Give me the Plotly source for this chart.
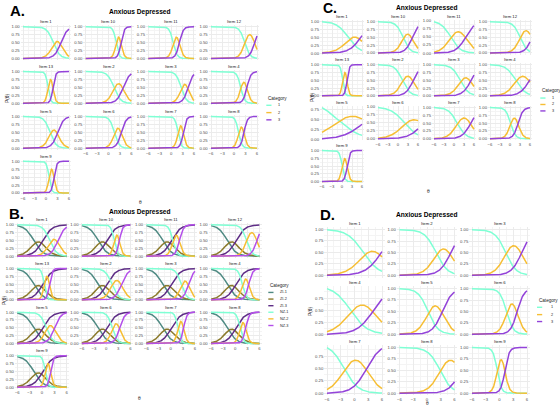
import numpy as np
import plotly.graph_objects as go

W, H = 560, 409
theta = np.linspace(-6, 6, 241)

# ---------------- data (item parameters) ----------------
# Panels A and B (non-zero class): discrimination a, thresholds b1, b2
items_13 = ["Item 1", "Item 10", "Item 11", "Item 12", "Item 13", "Item 2", "Item 3",
            "Item 4", "Item 5", "Item 6", "Item 7", "Item 8", "Item 9"]
a_A = [1.2, 2.5, 2.0, 1.5, 3.0, 1.2, 1.5, 2.0, 1.3, 1.6, 2.5, 2.3, 3.0]
b1_A = [1.9, 2.0, 0.55, 2.8, 0.53, 1.44, 2.63, 1.77, 1.06, 1.54, 1.8, 1.2, 0.8]
b2_A = [3.9, 3.3, 2.17, 5.4, 1.83, 3.86, 4.47, 3.37, 3.06, 3.4, 3.2, 2.6, 2.1]

# Panel B zero-inflated class (same for every item)
a_ZI = 0.9
b1_ZI = -2.0
b2_ZI = 0.2

# Panel C
a_C = [0.59, 1.0, 0.7, 1.0, 3.0, 0.9, 0.8, 0.7, 0.3, 0.49, 0.78, 1.4, 2.5]
b1_C = [1.86, 1.5, -1.03, 3.0, 0.2, 1.3, 1.85, 1.7, -1.3, 1.96, 0.95, 0.16, 0.04]
b2_C = [5.66, 4.3, 3.53, 6.6, 1.5, 4.6, 5.15, 5.9, 7.6, 7.63, 5.05, 2.44, 1.56]

# Panel D
items_9 = ["Item 1", "Item 2", "Item 3", "Item 4", "Item 5", "Item 6", "Item 7", "Item 8", "Item 9"]
a_D = [0.58, 0.81, 0.88, 0.55, 0.93, 1.38, 0.66, 0.8, 2.2]
b1_D = [1.9, 1.97, 1.34, -0.9, 0.24, 1.54, -2.25, 2.83, -0.5]
b2_D = [5.9, 5.23, 4.86, 4.2, 3.36, 3.86, 2.65, 7.37, 1.2]

cats_3 = ["1", "2", "3"]
cats_6 = ["ZI-1", "ZI-2", "ZI-3", "NZ-1", "NZ-2", "NZ-3"]
col_3 = ["#7FFFD4", "#F6BE34", "#9343D9"]
col_6 = ["#4F8A83", "#8B7A2B", "#5E2D86", "#7FFFD4", "#F6BE34", "#B44FEA"]

x_ticks = [-6, -3, 0, 3, 6]
x_minor = [-4.5, -1.5, 1.5, 4.5]


def grm(a, b1, b2):
    p_ge2 = 1 / (1 + np.exp(-a * (theta - b1)))
    p_ge3 = 1 / (1 + np.exp(-a * (theta - b2)))
    return [1 - p_ge2, p_ge2 - p_ge3, p_ge3]


FONT = "Liberation Sans, Arial, sans-serif"
fig = go.Figure()
layout = {}
ann = []
shapes = []
counter = [0]


def X(px):
    return px / W


def Y(py):
    return 1 - py / H


def y_ticks(lo, hi):
    span = hi - lo
    step = 0.25 if span > 0.8 else 0.2
    start = np.ceil(lo / step - 1e-9) * step
    vals = [round(v, 4) for v in np.arange(start, hi + 1e-9, step)]
    fmt = ".2f" if step == 0.25 else ".1f"
    minor = [round(v + step / 2, 4) for v in np.arange(start - step, hi, step)]
    return vals, fmt, minor


def add_facets(col_px, row_px, ncol, names, curve_sets, colors, strip_off=3.4):
    n = len(names)
    for i, name in enumerate(names):
        r, c = divmod(i, ncol)
        xm, xp = col_px[c]
        y1, y0 = row_px[r]
        wpx, hpx = xp - xm, y0 - y1
        left, right = xm - 0.05 * wpx, xp + 0.05 * wpx
        top, bottom = y1 - 0.05 * hpx, y0 + 0.05 * hpx
        counter[0] += 1
        k = counter[0]
        xs = "" if k == 1 else str(k)
        curves = curve_sets[i]
        allv = np.concatenate(curves)
        lo, hi = float(allv.min()), float(allv.max())
        pad = 0.05 * (hi - lo)
        tv, fmt, mn = y_ticks(lo - pad, hi + pad)
        is_bottom = i + ncol >= n
        layout["xaxis" + xs] = dict(
            domain=[X(left), X(right)], anchor="y" + xs, range=[-6.6, 6.6],
            tickvals=x_ticks, showticklabels=is_bottom, ticks="", showline=False,
            zeroline=False, showgrid=True, gridcolor="#EBEBEB", gridwidth=0.5,
            minor=dict(tickvals=x_minor, showgrid=True, gridcolor="#F4F4F4", gridwidth=0.3),
            tickfont=dict(size=4.2, color="#4D4D4D", family=FONT), fixedrange=True)
        layout["yaxis" + xs] = dict(
            domain=[Y(bottom), Y(top)], anchor="x" + xs, range=[lo - pad, hi + pad],
            tickvals=tv, tickformat=fmt, ticks="", showline=False, zeroline=False,
            showgrid=True, gridcolor="#EBEBEB", gridwidth=0.5,
            minor=dict(tickvals=mn, showgrid=True, gridcolor="#F4F4F4", gridwidth=0.3),
            tickfont=dict(size=4.2, color="#4D4D4D", family=FONT), fixedrange=True)
        for yv, colr in zip(curves, colors):
            fig.add_trace(go.Scatter(x=theta, y=yv, mode="lines", xaxis="x" + xs, yaxis="y" + xs,
                                     line=dict(color=colr, width=1.5), showlegend=False,
                                     hoverinfo="skip"))
        ann.append(dict(x=X((left + right) / 2), y=Y(top - strip_off), xref="paper", yref="paper",
                        text=name, showarrow=False, xanchor="center", yanchor="middle",
                        font=dict(size=4.2, color="#1A1A1A", family=FONT)))


def text(xp, yp, s, size, bold=False, anchor="center", color="#000000", angle=0):
    ann.append(dict(x=X(xp), y=Y(yp), xref="paper", yref="paper", showarrow=False,
                    text=("<b>%s</b>" % s) if bold else s, xanchor=anchor, yanchor="middle",
                    textangle=angle, font=dict(size=size, color=color, family=FONT)))


def legend(x0, ytitle, ys, labels, colors, lab_x):
    text(x0, ytitle, "Category", 4.6, anchor="left", color="#1A1A1A")
    for yy, lab, colr in zip(ys, labels, colors):
        shapes.append(dict(type="line", xref="paper", yref="paper", x0=X(x0 + 0.3), x1=X(x0 + 5.5),
                           y0=Y(yy), y1=Y(yy), line=dict(color=colr, width=1.4)))
        text(lab_x, yy, lab, 3.8, anchor="left", color="#1A1A1A")


# ---------------- Panel A ----------------
curves_A = [grm(a, b1, b2) for a, b1, b2 in zip(a_A, b1_A, b2_A)]
colsA = [(23, 69), (85.7, 131.3), (148.3, 194), (211, 257)]
rowsA = [(25 + 45.3 * r, 57 + 45.3 * r) for r in range(4)]
add_facets(colsA, rowsA, 4, items_13, curves_A, col_3)
text(8, 9, "A.", 15, bold=True, anchor="left")
text(140, 10, "Anxious Depressed", 6.6, bold=True)
text(7, 98, "P(θ)", 4.8, angle=-90, color="#1A1A1A")
text(140, 202, "θ", 4.8, color="#1A1A1A")
legend(266, 97, [104.3, 111.7, 119], cats_3, col_3, 276)

# ---------------- Panel B ----------------
zi = grm(a_ZI, b1_ZI, b2_ZI)
curves_B = [zi + c for c in curves_A]
colsB = [(17.3, 66.7), (81.9, 130.3), (146.5, 194.9), (211.1, 259.4)]
rowsB = [(225 + 44.1 * r, 256.7 + 44.1 * r) for r in range(4)]
add_facets(colsB, rowsB, 4, items_13, curves_B, col_6)
text(7, 214, "B.", 15, bold=True, anchor="left")
text(140, 212, "Anxious Depressed", 6.6, bold=True)
text(4, 302, "P(θ)", 4.8, angle=-90, color="#1A1A1A")
text(139, 400, "θ", 4.8, color="#1A1A1A")
legend(268, 286, [293.3, 300, 306.7, 313.3, 320, 326.7], cats_6, col_6, 277.5)

# ---------------- Panel C ----------------
curves_C = [grm(a, b1, b2) for a, b1, b2 in zip(a_C, b1_C, b2_C)]
colsC = [(322, 362), (378, 418), (434, 474), (490, 530)]
rowsC = [(20 + 43.3 * r, 51.5 + 43.3 * r) for r in range(4)]
add_facets(colsC, rowsC, 4, items_13, curves_C, col_3)
text(321, 6, "C.", 14, bold=True, anchor="left")
text(427, 6, "Anxious Depressed", 6.6, bold=True)
text(312, 97, "P(θ)", 4.8, angle=-90, color="#1A1A1A")
text(428, 191, "θ", 4.8, color="#1A1A1A")
legend(540, 89, [97, 103.5, 110], cats_3, col_3, 550)

# ---------------- Panel D ----------------
curves_D = [grm(a, b1, b2) for a, b1, b2 in zip(a_D, b1_D, b2_D)]
colsD = [(327, 382), (399.5, 454.5), (472, 527)]
rowsD = [(230 + 59.5 * r, 276 + 59.5 * r) for r in range(3)]
add_facets(colsD, rowsD, 3, items_9, curves_D, col_3, strip_off=4.0)
text(318, 215, "D.", 15, bold=True, anchor="left")
text(427, 215, "Anxious Depressed", 6.6, bold=True)
text(311, 313, "P(θ)", 4.8, angle=-90, color="#1A1A1A")
text(427, 405, "θ", 4.8, color="#1A1A1A")
legend(536.7, 301, [308.3, 315.7, 322.7], cats_3, col_3, 549)

fig.update_layout(width=W, height=H, margin=dict(l=0, r=0, t=0, b=0),
                  paper_bgcolor="white", plot_bgcolor="white", showlegend=False,
                  annotations=ann, shapes=shapes, **layout)
fig.write_html("out.html", config={"displayModeBar": False})
